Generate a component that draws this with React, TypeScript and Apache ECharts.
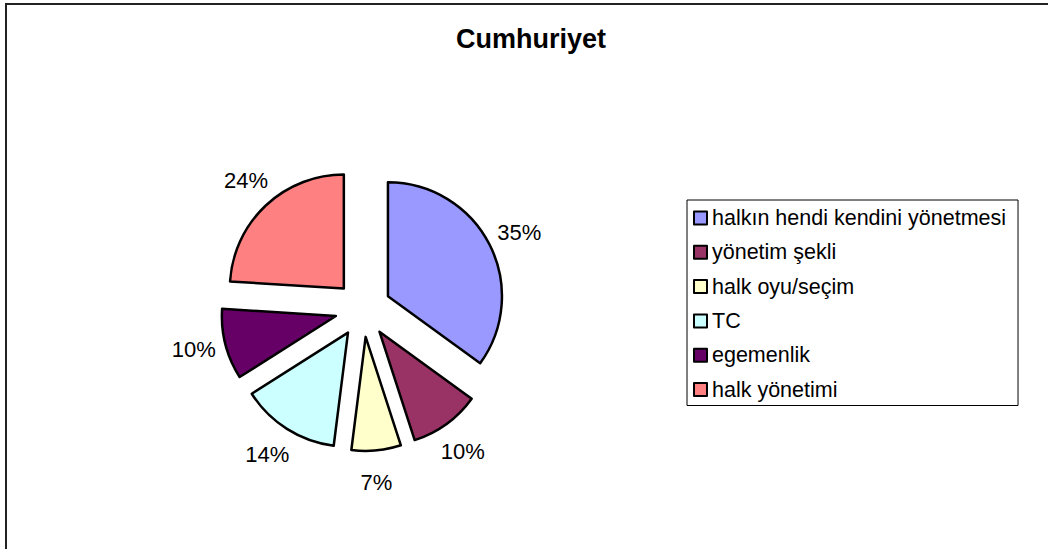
import React, { useEffect, useRef } from "react";
import * as echarts from "echarts";

const titleText = "Cumhuriyet";
const categories = [
  "halkın hendi kendini yönetmesi",
  "yönetim şekli",
  "halk oyu/seçim",
  "TC",
  "egemenlik",
  "halk yönetimi",
];
const values = [35, 10, 7, 14, 10, 24];
const colors = ["#9999FF", "#993366", "#FFFFCC", "#CCFFFF", "#660066", "#FF8080"];

const FONT = "'Liberation Sans', Arial, sans-serif";

export default function App() {
  const ref = useRef<HTMLDivElement>(null);
  useEffect(() => {
    if (!ref.current) return;
    const chart = echarts.init(ref.current, undefined, { renderer: "svg" });
    const mainData = categories.map((name, i) => ({
      name,
      value: values[i],
      selected: true,
      itemStyle: { color: colors[i] },
    }));
    const ghostData = categories.map((name, i) => ({ name, value: values[i] }));
    const center = [363, 309];
    chart.setOption({
      animation: false,
      backgroundColor: "#fff",
      title: {
        text: titleText,
        left: 456,
        top: 25,
        padding: 0,
        textStyle: { fontFamily: FONT, fontWeight: "bold", fontSize: 27, color: "#000" },
      },
      legend: {
        orient: "vertical",
        left: 687,
        top: 200,
        padding: [7, 12, 5, 6],
        borderColor: "#000",
        borderWidth: 1,
        itemWidth: 13,
        itemHeight: 13,
        itemGap: 12.3,
        itemTextGap: 7,
        icon: "rect",
        selectedMode: false,
        data: categories,
        textStyle: { fontFamily: FONT, fontSize: 21.5, color: "#000" },
        itemStyle: { borderColor: "#000", borderWidth: 2 },
      },
      graphic: [
        {
          type: "rect",
          shape: { x: 6, y: 4, width: 1200, height: 700 },
          style: { fill: "none", stroke: "#222", lineWidth: 2 },
          silent: true,
        },
      ],
      series: [
        {
          type: "pie",
          center,
          radius: 114,
          startAngle: 90,
          clockwise: true,
          selectedMode: "multiple",
          selectedOffset: 28,
          avoidLabelOverlap: false,
          label: { show: false },
          labelLine: { show: false },
          itemStyle: { borderColor: "#000", borderWidth: 2.5 },
          emphasis: { disabled: true },
          select: { itemStyle: { borderColor: "#000", borderWidth: 2.5 } },
          data: mainData,
        },
        {
          type: "pie",
          center,
          radius: [160, 182],
          startAngle: 89,
          clockwise: true,
          silent: true,
          legendHoverLink: false,
          selectedMode: false,
          avoidLabelOverlap: false,
          itemStyle: { color: "rgba(0,0,0,0)", borderWidth: 0 },
          emphasis: { disabled: true },
          labelLine: { show: false },
          label: {
            show: true,
            position: "inside",
            rotate: 0,
            fontFamily: FONT,
            fontSize: 22,
            color: "#000",
            formatter: (p: any) => Math.round(p.percent) + "%",
          },
          data: ghostData,
        },
      ],
    });
    return () => chart.dispose();
  }, []);
  return (
    <div
      ref={ref}
      style={{ position: "absolute", left: 0, top: 0, width: 1048, height: 549 }}
    />
  );
}
